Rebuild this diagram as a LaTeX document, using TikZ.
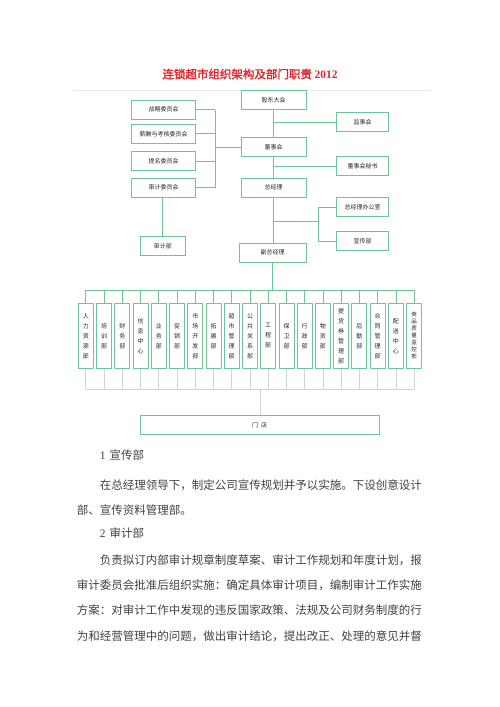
\documentclass[tikz,border=0pt]{standalone}
\usepackage{fontspec}
\setmainfont{Liberation Serif}
\newfontfamily\cjk{Noto Sans CJK SC}
\newfontfamily\cjkbold[FakeBold=2]{Noto Sans CJK SC}
\definecolor{boxgreen}{RGB}{112,196,150}
\definecolor{paleline}{RGB}{200,216,208}
\definecolor{titlered}{RGB}{222,38,44}
\tikzset{
	box/.style={draw=boxgreen, line width=.9pt, inner sep=0pt, text=black!85,
		font=\cjk\fontsize{6}{6}\selectfont},
	mainbox/.style={box, minimum width=65pt, minimum height=19pt},
	sidebox/.style={box, minimum width=64pt, minimum height=19pt},
	rightbox/.style={box, minimum width=51.6pt, minimum height=19pt},
	dept/.style={box, minimum width=15pt, minimum height=65pt, align=center,
		font=\cjk\fontsize{6}{10}\selectfont},
	link/.style={draw=boxgreen, line width=.7pt},
	droplink/.style={draw=paleline, line width=.7pt},
	bodytext/.style={font=\cjk\fontsize{11.5}{11.5}\selectfont, text=black!75,
		inner sep=0pt, anchor=west},
}
\newcommand{\Dept}[4][]{
	\node[dept,#1] (#2) at (#3,335.8) {#4};
	\draw[link] (#2.north) -- (#2.north |- busa);
	\draw[droplink] (#2.south) -- (#2.south |- busb);
}

\begin{document}
\begin{tikzpicture}[x=1pt,y=-1pt]
	\useasboundingbox (0,0) rectangle (500,707);
	\node[font=\cjkbold\fontsize{11.5}{11.5}\selectfont, text=titlered] (title) at (250,74)
		{连锁超市组织架构及部门职责 {\rmfamily\bfseries 2012}};
	\draw[gray!18, line width=.8pt] (73,90) -- (430,90);

	\node[mainbox] (gudong) at (273.5,100) {股东大会};
	\node[mainbox] (dongshi) at (273.5,147) {董事会};
	\node[mainbox] (zongjingli) at (273.5,187.5) {总经理};
	\node[mainbox, minimum width=66.7pt] (fuzong) at (272.7,252.5) {副总经理};

	\node[sidebox] (zhanlue) at (163.7,109.7) {战略委员会};
	\node[sidebox] (xinchou) at (163.7,133.8) {薪酬与考核委员会};
	\node[sidebox] (timing) at (163.7,161.3) {提名委员会};
	\node[sidebox] (shenjiwyh) at (163.7,187.5) {审计委员会};
	\node[box, minimum width=44.3pt, minimum height=19pt] (shenjibu) at (162.8,246.2) {审计部};

	\node[rightbox] (jianshi) at (362.5,122.2) {监事会};
	\node[rightbox] (mishu) at (362.5,166.3) {董事会秘书};
	\node[rightbox] (bangongshi) at (362.5,207) {总经理办公室};
	\node[rightbox] (xuanchuan) at (362.5,241.2) {宣传部};

	\coordinate (lbrk) at (215,147);
	\coordinate (rbrk) at (318.3,221.7);
	\coordinate (busa) at (272.7,290);
	\coordinate (busb) at (260.7,389.3);

	\draw[link] (gudong) -- (dongshi);
	\draw[link] (dongshi) -- (zongjingli);
	\draw[link] (zongjingli.south) -- (zongjingli.south |- fuzong.north);
	\draw[link] (jianshi.west) -- (jianshi.west -| gudong.south);
	\draw[link] (mishu.west) -- (mishu.west -| dongshi.south);
	\draw[link] (zhanlue.east) -- (zhanlue.east -| lbrk);
	\draw[link] (xinchou.east) -- (xinchou.east -| lbrk);
	\draw[link] (timing.east) -- (timing.east -| lbrk);
	\draw[link] (shenjiwyh.east) -- (shenjiwyh.east -| lbrk);
	\draw[link] (lbrk |- zhanlue) -- (lbrk |- shenjiwyh);
	\draw[link] (lbrk) -- (dongshi.west);
	\draw[link] (shenjiwyh.south -| shenjibu.north) -- (shenjibu.north);
	\draw[link] (rbrk -| zongjingli.south) -- (rbrk);
	\draw[link] (bangongshi.west) -| (rbrk) |- (xuanchuan.west);
	\draw[link] (fuzong.south) -- (busa);

	\Dept{d1}{85.8}{人\\力\\资\\源\\部}
	\Dept{d2}{104.1}{培\\训\\部}
	\Dept{d3}{122.3}{财\\务\\部}
	\Dept{d4}{140.5}{信\\息\\中\\心}
	\Dept{d5}{158.8}{业\\务\\部}
	\Dept{d6}{177.0}{促\\销\\部}
	\Dept{d7}{195.3}{市\\场\\开\\发\\部}
	\Dept{d8}{213.5}{拓\\展\\部}
	\Dept{d9}{231.7}{超\\市\\管\\理\\部}
	\Dept{d10}{250.0}{公\\共\\关\\系\\部}
	\Dept{d11}{268.2}{工\\程\\部}
	\Dept{d12}{286.5}{保\\卫\\部}
	\Dept{d13}{304.7}{行\\政\\部}
	\Dept{d14}{322.9}{物\\资\\部}
	\Dept{d15}{341.2}{提\\货\\券\\管\\理\\部}
	\Dept{d16}{359.4}{后\\勤\\部}
	\Dept{d17}{377.6}{合\\同\\管\\理\\部}
	\Dept{d18}{395.9}{配\\送\\中\\心}
	\Dept[font=\cjk\fontsize{5.5}{7}\selectfont]{d19}{414.1}{商\\品\\质\\量\\监\\控\\部}
	\draw[link] (d1.north |- busa) -- (d19.north |- busa);
	\draw[droplink] (d1.south |- busb) -- (d19.south |- busb);

	\node[box, minimum width=239.3pt, minimum height=19pt] (mendian) at (259.7,425) {门\hspace{3pt}店};
	\draw[droplink] (busb) -- (busb |- mendian.north);

	\node[bodytext] (p1) at (99.7,455) {{\rmfamily 1}\hspace{4pt}宣传部};
	\node[bodytext] (p2) at (99.7,485) {在总经理领导下，制定公司宣传规划并予以实施。下设创意设计};
	\node[bodytext] (p3) at (76.7,510) {部、宣传资料管理部。};
	\node[bodytext] (p4) at (99.7,533) {{\rmfamily 2}\hspace{4pt}审计部};
	\node[bodytext] (p5) at (99.7,560) {负责拟订内部审计规章制度草案、审计工作规划和年度计划，报};
	\node[bodytext] (p6) at (76.7,585) {审计委员会批准后组织实施：确定具体审计项目，编制审计工作实施};
	\node[bodytext] (p7) at (76.7,610) {方案：对审计工作中发现的违反国家政策、法规及公司财务制度的行};
	\node[bodytext] (p8) at (76.7,636) {为和经营管理中的问题，做出审计结论，提出改正、处理的意见并督};
\end{tikzpicture}
\end{document}
